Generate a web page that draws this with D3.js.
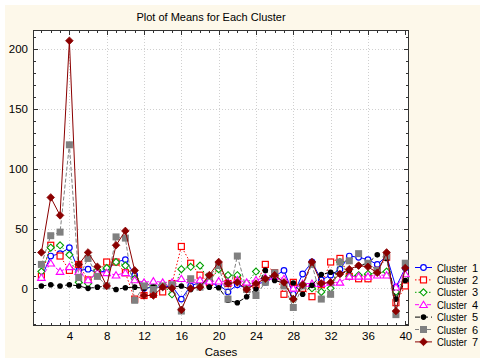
<!DOCTYPE html>
<html><head><meta charset="utf-8">
<script src="https://cdn.jsdelivr.net/npm/d3@7"></script>
<style>
html,body{margin:0;padding:0;background:#fff;}
svg{display:block;font-family:"Liberation Sans",Arial,sans-serif;}
</style></head>
<body>
<svg id="chart" width="480" height="358"></svg>
<script>
const cases = d3.range(1, 41);
const xTicks = [4, 8, 12, 16, 20, 24, 28, 32, 36, 40];
const yTicks = [0, 50, 100, 150, 200];
const seriesLabel = "Cluster";
const seriesNumbers = ["1", "2", "3", "4", "5", "6", "7"];
const cluster1 = [9, 27, 29, 34, 15, 16, 13, 15, 22, 24, 11, 0, 1, 1, 2, -9, 2, 5, 4, 3, -3, 3, 0, 4, 5, 10, 15, -5, 12, 22, 7, 11, 16, 27, 26, 24, 20, 27, 1, 17];
const cluster2 = [10, 36, 27, 15, 20, 7, 13, 22, 22, 13, -9, -6, -5, -3, 4, 35, 21, 11, 5, 18, 4, 7, 0, 3, 20, 13, -5, 5, 0, -7, 3, 22, 25, 10, 8, 8, 15, 26, -12, 2];
const cluster3 = [14, 34, 36, 28, 5, 4, 15, 17, 22, 19, 8, 4, 2, 3, -5, 16, 18, 19, 6, 16, 11, 11, 4, 14, 8, 10, 6, -9, 3, 0, -3, 0, 22, 10, 11, 12, 13, 14, -3, 10];
const cluster4 = [9, 21, 14, 18, 14, 7, 13, 13, 11, 13, 7, 5, 6, 5, 5, 8, 7, 7, 6, 6, 5, 7, 5, 7, 9, 10, 8, 0, 4, 4, 4, 5, 5, 10, 10, 10, 11, 11, 1, 12];
const cluster5 = [2, 3, 2, 3, 2, 0, 1, 2, -1, 0.5, 1, 0, 1, 1, 1, 2, -1, 2, 1, 0.5, -10, -12, -7, -0.5, 15, 6.5, 4.5, 4.5, -5, 2.5, 11.5, 13.5, 12, 15, 19, 21, 28, 25, -9, 6.5];
const cluster6 = [20, 44, 47, 120, 9, 25, 10, 2, 43, 42, -10, 2, -1, 2, 3, -19, 8, 1, 10, 19, -9, 27, -1, -6, 5, 13, 2, -16, 2, 20, -9, -5, 22, 23, 29, 21, 15, 27, -22, 21];
const cluster7 = [30, 76, 61, 207, 20, 30, 18, 2, 36, 48, 15, -6, -6, 1, 0, -18, 0, 1, 11, 22, 4, 5, -1, 4, 8, 11, 5, -9, 3, 22, 4, 5, 12, 16, 19, 18, 13, 30, -19, 17];

const allSeries = [cluster1, cluster2, cluster3, cluster4, cluster5, cluster6, cluster7];
const styles = [
  {color:"#0000ff", dash:null, marker:"circle", fill:"#fff"},
  {color:"#ff0000", dash:"1.5,2", marker:"square", fill:"#fff"},
  {color:"#00a000", dash:"1.5,2", marker:"diamond", fill:"#fff"},
  {color:"#ff00ff", dash:"4,2", marker:"triangle", fill:"#fff"},
  {color:"#000000", dash:"5,3", marker:"dot", fill:"#000"},
  {color:"#808080", dash:"4,2", marker:"fsquare", fill:"#808080"},
  {color:"#8b0000", dash:null, marker:"fdiamond", fill:"#8b0000"}
];

const svg = d3.select("#chart");
const L = 33, R = 409, T = 30, B = 326;
svg.append("rect").attr("x",5).attr("y",5).attr("width",475).attr("height",353).attr("fill","#fdf8ea");
svg.append("rect").attr("x",L).attr("y",T).attr("width",R-L).attr("height",B-T).attr("fill","#fff");

const x = d3.scaleLinear().domain([0.1, 40.4]).range([L, R]);
const y = d3.scaleLinear().domain([-31.5, 216]).range([B, T]);

// grid
const g = svg.append("g");
g.selectAll(".vg").data(xTicks.filter(d => d < 40)).join("line")
  .attr("x1", d => Math.round(x(d)) + 0.5).attr("x2", d => Math.round(x(d)) + 0.5)
  .attr("y1", T).attr("y2", B).attr("stroke", "#d0d0d0").attr("stroke-dasharray", "1,2");
g.selectAll(".hg").data(yTicks).join("line")
  .attr("y1", d => Math.round(y(d)) + 0.5).attr("y2", d => Math.round(y(d)) + 0.5)
  .attr("x1", L).attr("x2", R).attr("stroke", "#d0d0d0").attr("stroke-dasharray", "1,2");

// axes
const axB = d3.axisBottom(x).tickValues(xTicks).tickSize(0).tickPadding(6);
const axL = d3.axisLeft(y).tickValues(yTicks).tickSize(0).tickPadding(5);
const gb = svg.append("g").attr("transform", `translate(0,${B})`).call(axB);
const gl = svg.append("g").attr("transform", `translate(${L},0)`).call(axL);
[gb, gl].forEach(a => { a.select(".domain").remove(); a.selectAll("text").attr("font-size", 11.5).attr("fill", "#000").attr("font-family", "Liberation Sans, Arial, sans-serif"); });

// inward ticks
const tk = svg.append("g").attr("stroke", "#333").attr("stroke-width", 1);
cases.forEach(c => {
  const px = Math.round(x(c)) + 0.5, len = (c % 4 === 0) ? 5 : 3;
  tk.append("line").attr("x1", px).attr("x2", px).attr("y1", B).attr("y2", B - len);
  tk.append("line").attr("x1", px).attr("x2", px).attr("y1", T).attr("y2", T + len);
});
d3.range(-30, 211, 10).forEach(v => {
  const py = Math.round(y(v)) + 0.5, len = (v % 50 === 0) ? 5 : 3;
  tk.append("line").attr("x1", L).attr("x2", L + len).attr("y1", py).attr("y2", py);
  tk.append("line").attr("x1", R).attr("x2", R - len).attr("y1", py).attr("y2", py);
});
svg.append("rect").attr("x", L + 0.5).attr("y", T + 0.5).attr("width", R - L - 1).attr("height", B - T - 1)
  .attr("fill", "none").attr("stroke", "#333");

function drawMarker(sel, type, st, cx, cy) {
  if (type === "circle") sel.append("circle").attr("cx", cx).attr("cy", cy).attr("r", 2.8).attr("fill", st.fill).attr("stroke", st.color).attr("stroke-width", 1.2);
  else if (type === "dot") sel.append("circle").attr("cx", cx).attr("cy", cy).attr("r", 2.8).attr("fill", st.color);
  else if (type === "square") sel.append("rect").attr("x", cx - 3).attr("y", cy - 3).attr("width", 6).attr("height", 6).attr("fill", st.fill).attr("stroke", st.color).attr("stroke-width", 1.2);
  else if (type === "fsquare") sel.append("rect").attr("x", cx - 3.5).attr("y", cy - 3.5).attr("width", 7).attr("height", 7).attr("fill", st.color);
  else if (type === "diamond") sel.append("path").attr("d", `M${cx},${cy-3.5}L${cx+3.5},${cy}L${cx},${cy+3.5}L${cx-3.5},${cy}Z`).attr("fill", st.fill).attr("stroke", st.color).attr("stroke-width", 1.1);
  else if (type === "fdiamond") sel.append("path").attr("d", `M${cx},${cy-3.8}L${cx+3.8},${cy}L${cx},${cy+3.8}L${cx-3.8},${cy}Z`).attr("fill", st.color).attr("stroke", st.color).attr("stroke-width", 0.8);
  else if (type === "triangle") sel.append("path").attr("d", `M${cx},${cy-3.5}L${cx+3.8},${cy+2.8}L${cx-3.8},${cy+2.8}Z`).attr("fill", st.fill).attr("stroke", st.color).attr("stroke-width", 1.1);
}

const line = d3.line().x((d, i) => x(cases[i])).y(d => y(d));
const plot = svg.append("g");
allSeries.forEach((vals, k) => {
  const st = styles[k];
  plot.append("path").attr("d", line(vals)).attr("fill", "none").attr("stroke", st.color)
    .attr("stroke-width", 1).attr("stroke-dasharray", st.dash);
  const mg = plot.append("g");
  vals.forEach((v, i) => drawMarker(mg, st.marker, st, x(cases[i]), y(v)));
});

// legend
const lg = svg.append("g");
seriesNumbers.forEach((num, k) => {
  const st = styles[k], ly = 267.5 + k * 12.4;
  lg.append("line").attr("x1", 415).attr("x2", 432).attr("y1", ly).attr("y2", ly).attr("stroke", st.color).attr("stroke-dasharray", st.dash);
  drawMarker(lg, st.marker, st, 423.5, ly);
  lg.append("text").attr("x", 437).attr("y", ly + 4).attr("font-size", 11)
    .attr("textLength", 30).attr("lengthAdjust", "spacingAndGlyphs").text(seriesLabel);
  lg.append("text").attr("x", 472).attr("y", ly + 4).attr("font-size", 11).text(num);
});

// titles
svg.append("text").attr("x", 211).attr("y", 21).attr("text-anchor", "middle").attr("font-size", 11).text("Plot of Means for Each Cluster");
svg.append("text").attr("x", 221).attr("y", 356).attr("text-anchor", "middle").attr("font-size", 11.5).text("Cases");
</script>
</body></html>
